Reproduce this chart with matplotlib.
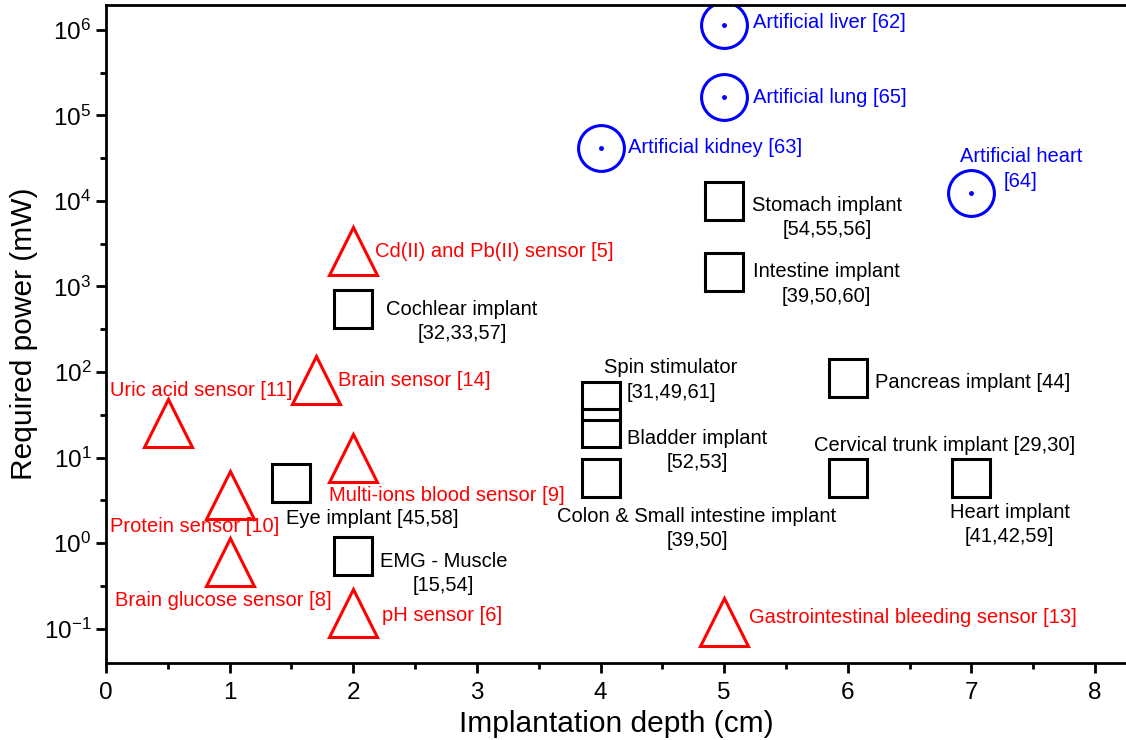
import numpy as np
import matplotlib
matplotlib.use('Agg')
import matplotlib.pyplot as plt
from matplotlib.ticker import FixedLocator, NullFormatter

plt.rcParams['font.family'] = ['Liberation Sans', 'DejaVu Sans']
plt.rcParams['mathtext.fontset'] = 'custom'
plt.rcParams['mathtext.rm'] = 'Liberation Sans'
plt.rcParams['mathtext.it'] = 'Liberation Sans'

# artificial organs (blue circles)
organ_names = ['Artificial liver [62]', 'Artificial lung [65]', 'Artificial kidney [63]',
               'Artificial heart\n[64]']
organ_x = [5, 5, 4, 7]
organ_y = [1.15e6, 1.64e5, 4.2e4, 1.24e4]

# implants (black squares)
implant_names = ['Stomach implant\n[54,55,56]', 'Intestine implant\n[39,50,60]',
                 'Cochlear implant\n[32,33,57]', 'Spin stimulator\n[31,49,61]',
                 'Bladder implant\n[52,53]', 'Colon & Small intestine implant\n[39,50]',
                 'Pancreas implant [44]', 'Cervical trunk implant [29,30]',
                 'Heart implant\n[41,42,59]', 'Eye implant [45,58]', 'EMG - Muscle\n[15,54]']
implant_x = [5, 5, 2, 4, 4, 4, 6, 6, 7, 1.5, 2]
implant_y = [1.0e4, 1.48e3, 550, 46, 22, 5.8, 85, 5.8, 5.8, 5.0, 0.7]

# sensors (red triangles)
sensor_names = ['Cd(II) and Pb(II) sensor [5]', 'Brain sensor [14]', 'Uric acid sensor [11]',
                'Multi-ions blood sensor [9]', 'Protein sensor [10]', 'Brain glucose sensor [8]',
                'pH sensor [6]', 'Gastrointestinal bleeding sensor [13]']
sensor_x = [2, 1.7, 0.5, 2, 1, 1, 2, 5]
sensor_y = [2.6e3, 80, 25, 10, 3.6, 0.6, 0.15, 0.12]

# label anchors (x, y, ha)
organ_lab = [(5.23, 1.21e6, 'left'), (5.23, 1.64e5, 'left'), (4.22, 4.17e4, 'left'),
             (7.40, 2.37e4, 'center')]
implant_lab = [(5.83, 6.4e3, 'center'), (5.83, 1.07e3, 'center'), (2.88, 390, 'center'),
               (4.57, 80.5, 'center'), (4.78, 12.1, 'center'), (4.78, 1.48, 'center'),
               (6.22, 76.4, 'left'), (6.78, 14.0, 'center'), (7.31, 1.64, 'center'),
               (1.46, 1.96, 'left'), (2.73, 0.44, 'center')]
sensor_lab = [(2.18, 2.6e3, 'left'), (1.88, 78.5, 'left'), (0.03, 61.5, 'left'),
              (1.80, 3.64, 'left'), (0.03, 1.54, 'left'), (0.07, 0.215, 'left'),
              (2.23, 0.144, 'left'), (5.20, 0.133, 'left')]

fig = plt.figure(figsize=(11.26, 7.4), dpi=100)
ax = fig.add_axes([0.0941, 0.104, 0.9059, 0.8893])

ax.plot(organ_x, organ_y, 'o', ms=33, mfc='none', mec='#0000FF', mew=2.2, ls='none')
ax.plot(organ_x, organ_y, 'o', ms=2.5, color='#0000FF', ls='none')
ax.plot(implant_x, implant_y, 's', ms=28, mfc='none', mec='black', mew=2.2, ls='none')
ax.plot(sensor_x, sensor_y, '^', ms=34, mfc='none', mec='#FF0000', mew=2.2, ls='none')

fs = 14.5
for name, (tx, ty, ha) in zip(organ_names, organ_lab):
    ax.text(tx, ty, name, color='#0000FF', fontsize=fs, ha=ha, va='center',
            multialignment='center', linespacing=1.35)
for name, (tx, ty, ha) in zip(implant_names, implant_lab):
    ax.text(tx, ty, name, color='black', fontsize=fs, ha=ha, va='center',
            multialignment='center', linespacing=1.35)
for name, (tx, ty, ha) in zip(sensor_names, sensor_lab):
    ax.text(tx, ty, name, color='#FF0000', fontsize=fs, ha=ha, va='center')

ax.set_yscale('log')
ax.set_xlim(0, 8.25)
ax.set_ylim(0.0395, 1.96e6)
ax.set_xticks(range(0, 9))
ax.xaxis.set_minor_locator(FixedLocator(np.arange(0.5, 8.5, 1.0)))
ax.set_yticks([10.0 ** n for n in range(-1, 7)])
ax.set_yticklabels(['$10^{%d}$' % n for n in range(-1, 7)])
ax.yaxis.set_minor_locator(FixedLocator([10.0 ** (n + 0.5) for n in range(-2, 7)]))
ax.yaxis.set_minor_formatter(NullFormatter())

ax.tick_params(which='major', direction='out', length=7, width=2, labelsize=17.5)
ax.tick_params(axis='x', which='major', pad=7)
ax.tick_params(which='minor', direction='out', length=4.5, width=2)
for side in ['left', 'bottom', 'top']:
    ax.spines[side].set_linewidth(2)
ax.spines['right'].set_visible(False)

ax.set_xlabel('Implantation depth (cm)', fontsize=21.5, labelpad=4)
ax.set_ylabel('Required power (mW)', fontsize=21.5, labelpad=4)

fig.savefig('out.png', dpi=100)
